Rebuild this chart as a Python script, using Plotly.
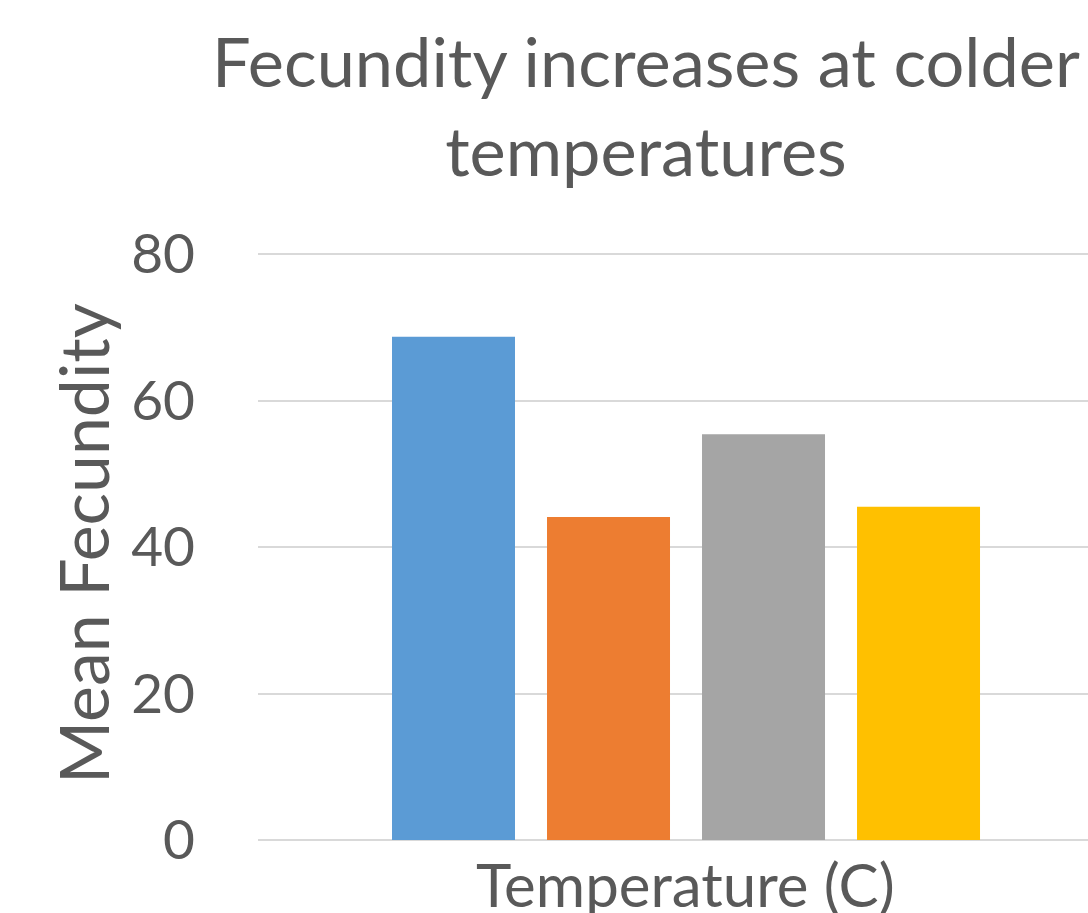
import plotly.graph_objects as go

# ---- data ----
category = [""]
series_names = ["Temp 1", "Temp 2", "Temp 3", "Temp 4"]
series_values = [68.7, 44.1, 55.4, 45.5]
series_colors = ["#5B9BD5", "#ED7D31", "#A5A5A5", "#FFC000"]
y_ticks = [0, 20, 40, 60, 80]

title_text = "Fecundity increases at colder<br>temperatures"
x_title = "Temperature (C)"
y_title = "Mean Fecundity"

FONT = "Lato"
TXT = "#595959"

W, H = 1088, 913
L, R, T, B = 258, 0, 247, 73
PW, PH = W - L - R, H - T - B
Y_MAX = 80 * PH / 586.0  # 80 sits at 254px, 0 at 840px


def px_x(px):
    return (px - L) / PW


def px_y(py):
    return (H - B - py) / PH


fig = go.Figure()
for name, val, col in zip(series_names, series_values, series_colors):
    fig.add_trace(go.Bar(x=category, y=[val], name=name, marker_color=col,
                         marker_line_width=0, showlegend=False, hoverinfo="skip"))

fig.update_layout(
    width=W, height=H,
    margin=dict(l=L, r=R, t=T, b=B, autoexpand=False),
    paper_bgcolor="white", plot_bgcolor="white",
    barmode="group", bargap=0.2757, bargroupgap=0.2065,
    font=dict(family=FONT, color=TXT),
    showlegend=False,
)
fig.update_xaxes(type="category", range=[-0.5, 0.4696], showticklabels=False,
                 showgrid=False, showline=False, zeroline=False, ticks="")
fig.update_yaxes(range=[0, Y_MAX], tickvals=y_ticks, showgrid=True, gridcolor="#D9D9D9",
                 gridwidth=2, zeroline=True, zerolinecolor="#D9D9D9", zerolinewidth=2,
                 showline=False, ticks="", ticklabelstandoff=62,
                 tickfont=dict(family=FONT, size=55, color=TXT))

fig.add_annotation(text=title_text, xref="paper", yref="paper",
                   x=px_x(646), y=px_y(17), xanchor="center", yanchor="top",
                   showarrow=False, font=dict(family=FONT, size=68.5, color=TXT))
fig.add_annotation(text=y_title, xref="paper", yref="paper", textangle=-90,
                   x=px_x(82), y=px_y(544), xanchor="center", yanchor="middle",
                   showarrow=False, font=dict(family=FONT, size=68, color=TXT))
fig.add_annotation(text=x_title, xref="paper", yref="paper",
                   x=px_x(685), y=px_y(884), xanchor="center", yanchor="middle",
                   showarrow=False, font=dict(family=FONT, size=60, color=TXT))

fig.write_html("out.html")
